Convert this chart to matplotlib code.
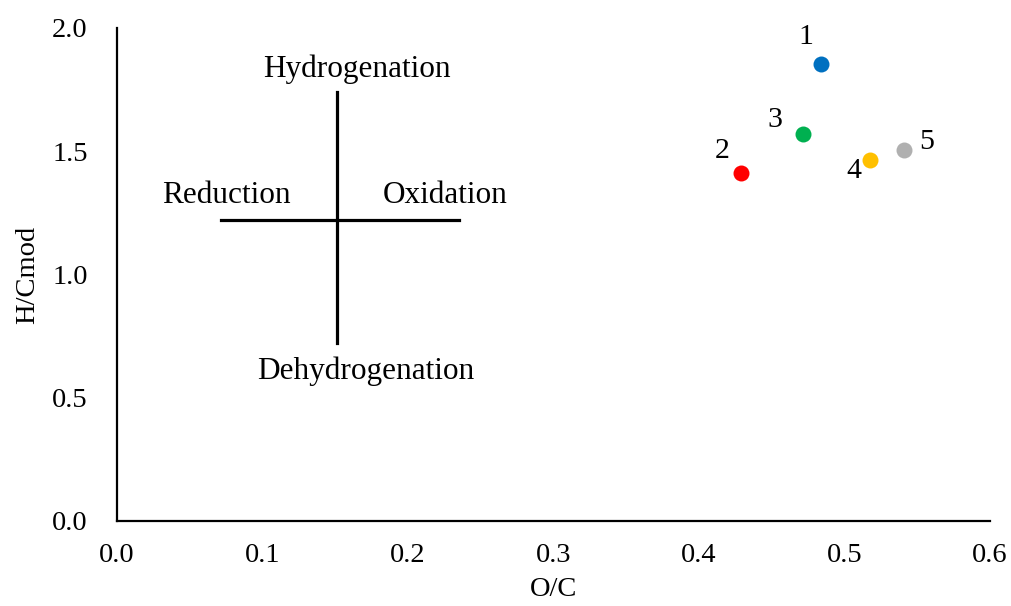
import numpy as np
import matplotlib
matplotlib.use("Agg")
import matplotlib.pyplot as plt

# datos
oc = [0.4836, 0.4290, 0.4713, 0.5175, 0.5409]
hc = [1.854, 1.413, 1.569, 1.465, 1.504]
labels = ["1", "2", "3", "4", "5"]
colors = ["#0070C0", "#FF0000", "#00B050", "#FFC000", "#B0B0B0"]
# desplazamiento de etiquetas (puntos)
label_offsets = [(-10.4, 14.4), (-13.9, 10.8), (-19.7, 5.3), (-11.7, -13.4), (16.1, 1.0)]

xticks = [0.0, 0.1, 0.2, 0.3, 0.4, 0.5, 0.6]
yticks = [0.0, 0.5, 1.0, 1.5, 2.0]

# cruz de referencia
cross_x = 0.151
cross_y = 1.222
cross_h = (0.0718, 0.2354)
cross_v = (0.724, 1.740)

plt.rcParams['font.family'] = ['Liberation Serif', 'DejaVu Serif']

fig = plt.figure(figsize=(10.11, 6.06), dpi=100)
ax = fig.add_axes([0.1157, 0.1403, 0.8635, 0.8135])

for x, y, c in zip(oc, hc, colors):
    ax.plot(x, y, 'o', color=c, markersize=11.5, markeredgewidth=0)

for x, y, lab, off in zip(oc, hc, labels, label_offsets):
    ax.annotate(lab, (x, y), xytext=off, textcoords='offset points',
                ha='center', va='baseline', fontsize=21.5)

ax.plot(cross_h, [cross_y, cross_y], color='black', lw=2.3)
ax.plot([cross_x, cross_x], cross_v, color='black', lw=2.3)

ax.text(0.165, 1.800, "Hydrogenation", ha='center', va='baseline', fontsize=22.5)
ax.text(0.171, 0.575, "Dehydrogenation", ha='center', va='baseline', fontsize=22.5)
ax.text(0.0753, 1.291, "Reduction", ha='center', va='baseline', fontsize=22.5)
ax.text(0.2257, 1.291, "Oxidation", ha='center', va='baseline', fontsize=22.5)

ax.set_xlim(0, 0.6)
ax.set_ylim(0, 2.0)
ax.set_xticks(xticks)
ax.set_yticks(yticks)
ax.set_xticklabels([f"{t:.1f}" for t in xticks])
ax.set_yticklabels([f"{t:.1f}" for t in yticks])
ax.tick_params(axis='both', length=0, labelsize=20.5)
ax.tick_params(axis='x', pad=16)
ax.tick_params(axis='y', pad=21)

for s in ['top', 'right']:
    ax.spines[s].set_visible(False)
for s in ['left', 'bottom']:
    ax.spines[s].set_linewidth(1.6)

ax.set_xlabel("O/C", fontsize=20.5, labelpad=6.5)
ax.set_ylabel("H/Cmod", fontsize=20.5, labelpad=9)

fig.savefig("out.png", dpi=100)
